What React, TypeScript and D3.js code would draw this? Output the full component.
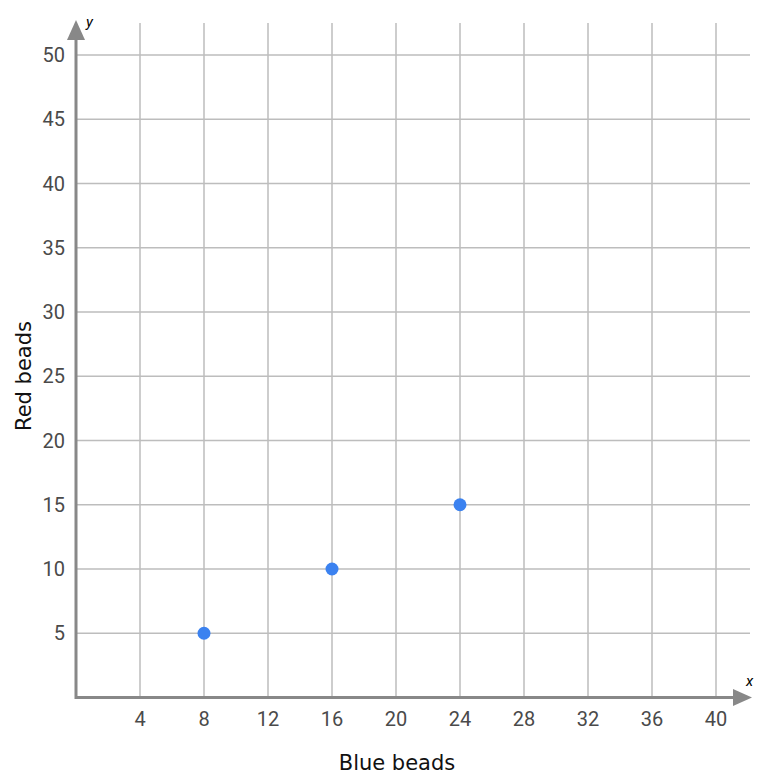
import * as d3 from 'd3';

const xTicks = [4, 8, 12, 16, 20, 24, 28, 32, 36, 40];
const yTicks = [5, 10, 15, 20, 25, 30, 35, 40, 45, 50];
const blueBeads = [8, 16, 24];
const redBeads = [5, 10, 15];

const W = 767;
const H = 779;

export default function App() {
  const x = d3.scaleLinear().domain([0, 40]).range([76, 716]);
  const y = d3.scaleLinear().domain([0, 50]).range([697.5, 55]);

  const gridRight = 750;
  const gridTop = 23;
  const axisColor = '#888';
  const gridColor = '#bdbdbd';
  const tickFont = 'Roboto, "Noto Sans", sans-serif';
  const titleFont = '"DejaVu Sans", Verdana, sans-serif';

  return (
    <svg width={W} height={H} style={{ position: 'absolute', left: 0, top: 0, background: '#fff' }}>
      {/* grid */}
      {xTicks.map(t => (
        <line key={'gx' + t} x1={x(t)} x2={x(t)} y1={gridTop} y2={y(0)} stroke={gridColor} strokeWidth={1.5} />
      ))}
      {yTicks.map(t => (
        <line key={'gy' + t} x1={x(0)} x2={gridRight} y1={y(t)} y2={y(t)} stroke={gridColor} strokeWidth={1.5} />
      ))}

      {/* axes */}
      <line x1={x(0)} x2={734} y1={y(0)} y2={y(0)} stroke={axisColor} strokeWidth={3} />
      <line x1={x(0)} x2={x(0)} y1={y(0) + 1.5} y2={38} stroke={axisColor} strokeWidth={3} />
      <polygon points={`733,689 752,697.5 733,706`} fill={axisColor} />
      <polygon points={`67,40 76,20 85,40`} fill={axisColor} />
      <text x={86} y={27} fontFamily={tickFont} fontStyle="italic" fontSize={15} fill="#000">y</text>
      <text x={746} y={686} fontFamily={tickFont} fontStyle="italic" fontSize={15} fill="#000">x</text>

      {/* tick labels */}
      {xTicks.map(t => (
        <text key={'tx' + t} x={x(t)} y={726} textAnchor="middle" fontFamily={tickFont} fontSize={20} fill="#4a4a4a">{t}</text>
      ))}
      {yTicks.map(t => (
        <text key={'ty' + t} x={65} y={y(t)} dy="0.36em" textAnchor="end" fontFamily={tickFont} fontSize={20} fill="#4a4a4a">{t}</text>
      ))}

      {/* axis titles */}
      <text x={397} y={770} textAnchor="middle" fontFamily={titleFont} fontSize={21} fill="#111">Blue beads</text>
      <text transform={`translate(31,376) rotate(-90)`} textAnchor="middle" fontFamily={titleFont} fontSize={21} fill="#111">Red beads</text>

      {/* points */}
      {blueBeads.map((b, i) => (
        <circle key={'p' + i} cx={x(b)} cy={y(redBeads[i])} r={6.5} fill="#3b82f0" />
      ))}
    </svg>
  );
}
